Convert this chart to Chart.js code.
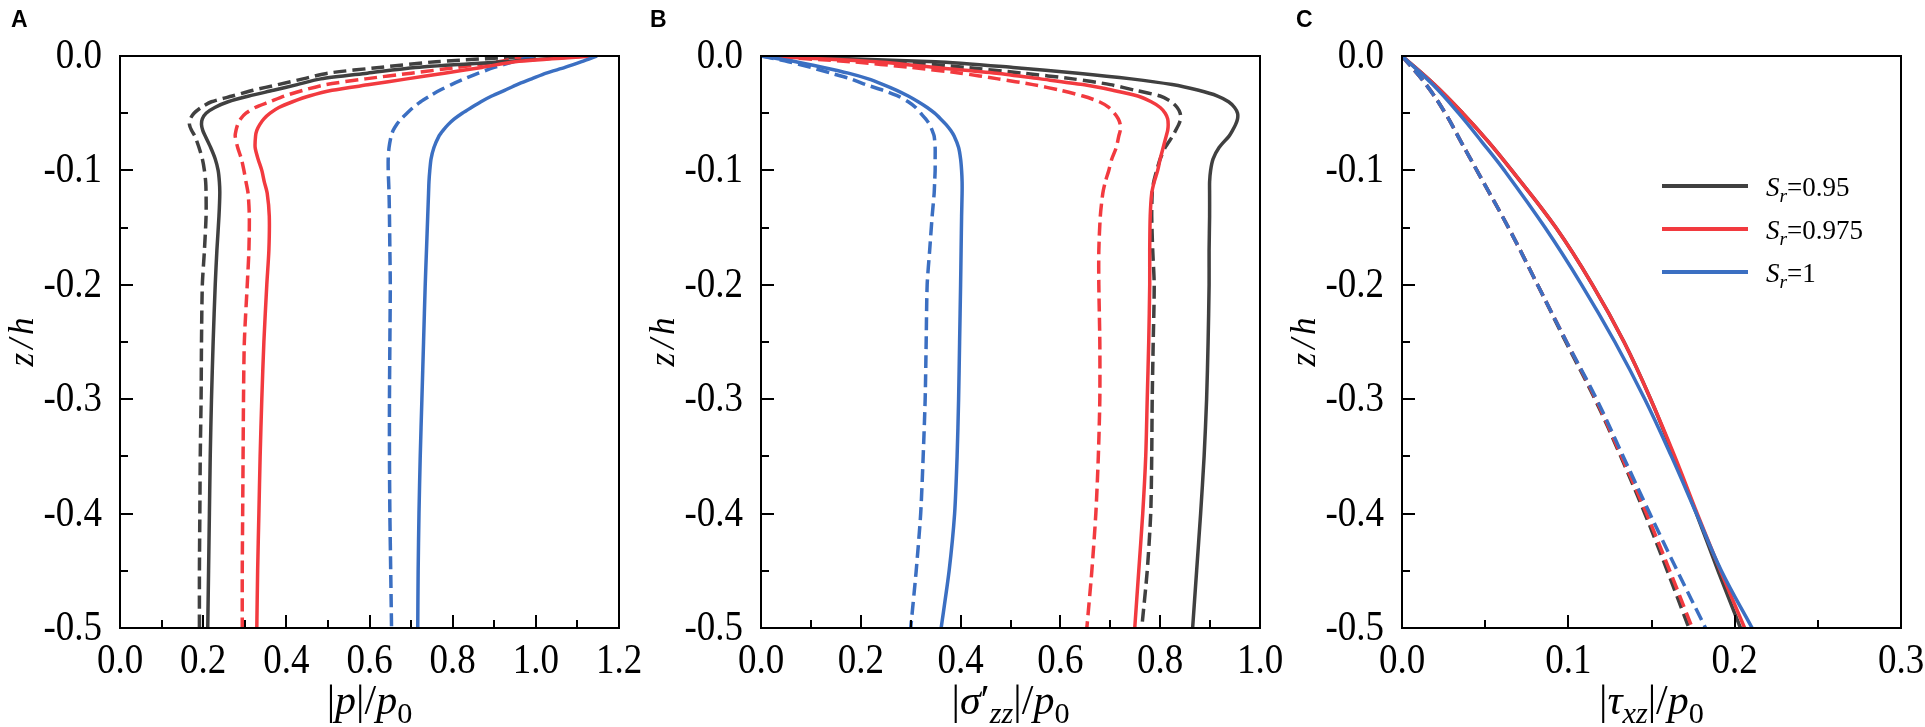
<!DOCTYPE html>
<html>
<head>
<meta charset="utf-8">
<script src="https://cdn.jsdelivr.net/npm/chart.js@4.4.1/dist/chart.umd.min.js"></script>
<style>
  html, body { margin: 0; padding: 0; background: #fff; }
  body { width: 1925px; height: 727px; position: relative; overflow: hidden; }
  canvas { position: absolute; top: 0; }
</style>
</head>
<body>
<canvas id="chartA" width="643" height="727" style="left:0px"></canvas>
<canvas id="chartB" width="643" height="727" style="left:641px"></canvas>
<canvas id="chartC" width="643" height="727" style="left:1282px"></canvas>
<script>
// depth z/h, shared by panels A and B
const depthAB = [0, -0.005, -0.01, -0.015, -0.02, -0.025, -0.03, -0.035, -0.04, -0.045,
  -0.05, -0.055, -0.06, -0.065, -0.07, -0.08, -0.09, -0.1, -0.11, -0.12,
  -0.14, -0.17, -0.2, -0.25, -0.3, -0.35, -0.4, -0.45, -0.5];
const depthC = [0, -0.025, -0.05, -0.075, -0.1, -0.15, -0.2, -0.25, -0.3, -0.35, -0.4, -0.45, -0.5];

// A: |p|/p0
const pSolid095  = [1.12, 0.92, 0.71, 0.595, 0.483, 0.426, 0.369, 0.31, 0.26, 0.228, 0.207, 0.198, 0.196, 0.199, 0.205, 0.218, 0.229, 0.236, 0.239, 0.240, 0.238, 0.233, 0.229, 0.224, 0.220, 0.217, 0.215, 0.213, 0.211];
const pDash095   = [1.0, 0.76, 0.624, 0.50, 0.44, 0.38, 0.32, 0.27, 0.22, 0.195, 0.178, 0.169, 0.167, 0.172, 0.18, 0.19, 0.198, 0.203, 0.206, 0.207, 0.207, 0.203, 0.198, 0.196, 0.195, 0.193, 0.192, 0.191, 0.191];
const pSolid0975 = [1.14, 0.95, 0.87, 0.78, 0.69, 0.60, 0.51, 0.455, 0.415, 0.382, 0.361, 0.346, 0.336, 0.329, 0.326, 0.325, 0.332, 0.341, 0.347, 0.354, 0.359, 0.358, 0.353, 0.346, 0.341, 0.337, 0.334, 0.331, 0.329];
const pDash0975  = [0.98, 0.91, 0.81, 0.70, 0.59, 0.495, 0.44, 0.395, 0.36, 0.325, 0.303, 0.29, 0.283, 0.279, 0.277, 0.283, 0.292, 0.298, 0.303, 0.308, 0.311, 0.310, 0.306, 0.299, 0.297, 0.296, 0.295, 0.294, 0.294];
const pSolid1    = [1.147, 1.11, 1.07, 1.025, 0.99, 0.955, 0.925, 0.894, 0.868, 0.845, 0.823, 0.804, 0.789, 0.777, 0.767, 0.755, 0.748, 0.745, 0.743, 0.742, 0.74, 0.737, 0.734, 0.73, 0.726, 0.722, 0.719, 0.717, 0.716];
const pDash1     = [0.995, 0.945, 0.9, 0.862, 0.828, 0.797, 0.769, 0.745, 0.723, 0.705, 0.69, 0.676, 0.665, 0.657, 0.652, 0.647, 0.645, 0.645, 0.646, 0.647, 0.648, 0.649, 0.65, 0.649, 0.648, 0.648, 0.649, 0.651, 0.653];

// B: |sigma'zz|/p0
const sSolid095  = [0, 0.35, 0.505, 0.635, 0.742, 0.824, 0.877, 0.915, 0.937, 0.949, 0.955, 0.955, 0.951, 0.945, 0.938, 0.918, 0.906, 0.901, 0.899, 0.899, 0.899, 0.898, 0.898, 0.896, 0.893, 0.888, 0.881, 0.873, 0.865];
const sDash095   = [0, 0.272, 0.41, 0.525, 0.625, 0.70, 0.75, 0.80, 0.822, 0.834, 0.84, 0.841, 0.837, 0.831, 0.825, 0.81, 0.80, 0.793, 0.787, 0.784, 0.783, 0.785, 0.788, 0.786, 0.784, 0.783, 0.781, 0.774, 0.763];
const sSolid0975 = [0, 0.23, 0.35, 0.472, 0.56, 0.645, 0.705, 0.755, 0.782, 0.80, 0.81, 0.815, 0.816, 0.815, 0.812, 0.806, 0.80, 0.795, 0.788, 0.783, 0.78, 0.779, 0.779, 0.777, 0.774, 0.771, 0.765, 0.757, 0.749];
const sDash0975  = [0, 0.18, 0.3, 0.4, 0.475, 0.545, 0.60, 0.645, 0.678, 0.697, 0.708, 0.716, 0.72, 0.72, 0.717, 0.712, 0.703, 0.697, 0.69, 0.685, 0.68, 0.677, 0.677, 0.679, 0.679, 0.676, 0.671, 0.663, 0.653];
const sSolid1    = [0, 0.07, 0.125, 0.175, 0.215, 0.245, 0.272, 0.295, 0.315, 0.333, 0.348, 0.36, 0.371, 0.38, 0.387, 0.396, 0.40, 0.402, 0.403, 0.403, 0.402, 0.401, 0.40, 0.398, 0.396, 0.393, 0.388, 0.377, 0.361];
const sDash1     = [0, 0.055, 0.1, 0.14, 0.18, 0.21, 0.245, 0.275, 0.295, 0.31, 0.32, 0.33, 0.338, 0.343, 0.347, 0.349, 0.349, 0.349, 0.348, 0.347, 0.343, 0.338, 0.333, 0.331, 0.329, 0.325, 0.32, 0.311, 0.30];

// C: |tau_xz|/p0
const tSolid095  = [0, 0.0195, 0.0365, 0.052, 0.066, 0.0925, 0.1145, 0.1335, 0.1495, 0.1635, 0.177, 0.190, 0.2035];
const tSolid0975 = [0, 0.0195, 0.0365, 0.052, 0.066, 0.0925, 0.1145, 0.1335, 0.1495, 0.164, 0.1775, 0.1915, 0.206];
const tSolid1    = [0, 0.0185, 0.034, 0.048, 0.0615, 0.086, 0.108, 0.128, 0.146, 0.162, 0.177, 0.192, 0.2105];
const tDash095   = [0, 0.0145, 0.026, 0.0355, 0.045, 0.064, 0.0815, 0.0985, 0.116, 0.1315, 0.146, 0.1595, 0.1725];
const tDash0975  = [0, 0.0145, 0.026, 0.0355, 0.045, 0.064, 0.0815, 0.099, 0.1165, 0.132, 0.147, 0.161, 0.1745];
const tDash1     = [0, 0.0145, 0.026, 0.0355, 0.045, 0.064, 0.0815, 0.099, 0.117, 0.133, 0.149, 0.1655, 0.1825];

const srValues = ['0.95', '0.975', '1'];
const colors = ['#404040', '#f23a3f', '#3b6fc2'];

const serif = '"Liberation Serif", "Times New Roman", serif';

// rich text: [text, style] with 'i' italic, 's' subscript
function drawRich(ctx, parts, x, y, size, align) {
  let w = 0;
  const segs = parts.map(([t, s]) => {
    const sub = s.includes('s');
    const fs = sub ? size * 0.72 : size;
    const font = (s.includes('i') ? 'italic ' : '') + fs + 'px ' + serif;
    ctx.font = font;
    const m = ctx.measureText(t).width;
    w += m;
    return { t, font, m, dy: sub ? size * 0.22 : 0 };
  });
  let cx = align === 'center' ? x - w / 2 : x;
  ctx.textAlign = 'left';
  segs.forEach(g => { ctx.font = g.font; ctx.fillText(g.t, cx, y + g.dy); cx += g.m; });
}

const near = (v, step) => Math.abs(v / step - Math.round(v / step)) < 1e-6;
const fmt = v => (Math.abs(v) < 1e-9 ? 0 : v).toFixed(1);

const decor = {
  id: 'decor',
  afterDraw(chart, args, o) {
    const { ctx, chartArea: a, scales: { x, y } } = chart;
    ctx.save();
    ctx.strokeStyle = '#000';
    ctx.lineWidth = 2;
    ctx.strokeRect(a.left, a.top, a.right - a.left, a.bottom - a.top);

    // inward ticks
    ctx.beginPath();
    for (let i = 1; i * o.xMinor < x.max - 1e-9; i++) {
      const v = i * o.xMinor, px = Math.round(x.getPixelForValue(v));
      const len = near(v, o.xMajor) ? 13 : 8;
      ctx.moveTo(px, a.bottom); ctx.lineTo(px, a.bottom - len);
    }
    for (let i = 1; y.min + i * 0.05 < y.max - 1e-9; i++) {
      const v = y.min + i * 0.05, py = Math.round(y.getPixelForValue(v));
      const len = near(v, 0.1) ? 13 : 8;
      ctx.moveTo(a.left, py); ctx.lineTo(a.left + len, py);
    }
    ctx.stroke();

    // tick labels (slightly tall, like the original)
    ctx.fillStyle = '#000';
    ctx.font = '37px ' + serif;
    ctx.textBaseline = 'alphabetic';
    ctx.textAlign = 'center';
    x.ticks.forEach(t => {
      ctx.save();
      ctx.translate(x.getPixelForValue(t.value), a.bottom + 45);
      ctx.scale(1, 1.12);
      ctx.fillText(fmt(t.value), 0, 0);
      ctx.restore();
    });
    ctx.textAlign = 'right';
    y.ticks.forEach(t => {
      ctx.save();
      ctx.translate(a.left - 18, y.getPixelForValue(t.value) + 12);
      ctx.scale(1, 1.12);
      ctx.fillText(fmt(t.value), 0, 0);
      ctx.restore();
    });

    // y axis title
    ctx.save();
    ctx.translate(33, (a.top + a.bottom) / 2);
    ctx.rotate(-Math.PI / 2);
    ctx.font = 'italic 35px ' + serif;
    ctx.letterSpacing = '4px';
    ctx.textAlign = 'center';
    ctx.fillText('z/h', 2, 0);
    ctx.restore();

    // panel letter
    ctx.font = 'bold 23px "Liberation Sans", Arial, sans-serif';
    ctx.textAlign = 'left';
    ctx.fillText(o.letter, o.letterX, 27);

    // x axis title
    drawRich(ctx, o.xTitle, (a.left + a.right) / 2, 714, 42, 'center');

    // legend
    if (o.legend) {
      srValues.forEach((s, i) => {
        const ly = 186 + i * 43;
        ctx.strokeStyle = colors[i];
        ctx.lineWidth = 4;
        ctx.beginPath();
        ctx.moveTo(a.left + 260, ly); ctx.lineTo(a.left + 346, ly);
        ctx.stroke();
        ctx.fillStyle = '#000';
        drawRich(ctx, [['S', 'i'], ['r', 'is'], ['=' + s, 'n']], a.left + 364, ly + 10, 27, 'left');
      });
    }
    ctx.restore();
  }
};

function series(depth, xs, ci, dashed, tension) {
  return {
    data: xs.map((v, i) => ({ x: v, y: depth[i] })),
    showLine: true,
    borderColor: colors[ci],
    borderWidth: 3.5,
    borderDash: dashed ? [13, 6] : [],
    pointRadius: 0,
    tension,
    fill: false
  };
}

function makePanel(id, depth, solids, dashes, xMax, xStep, xMinor, tension, deco) {
  // index 0 is drawn on top
  const datasets = [];
  for (let i = 2; i >= 0; i--) datasets.push(series(depth, solids[i], i, false, tension));
  for (let i = 2; i >= 0; i--) datasets.push(series(depth, dashes[i], i, true, tension));
  new Chart(document.getElementById(id), {
    type: 'scatter',
    data: { datasets },
    options: {
      responsive: false,
      animation: false,
      devicePixelRatio: 1,
      layout: { padding: { left: 0, right: 24, top: 56, bottom: 0 } },
      plugins: { legend: { display: false }, tooltip: { enabled: false },
        decor: Object.assign({ xMajor: xStep, xMinor }, deco) },
      scales: {
        x: {
          type: 'linear', min: 0, max: xMax,
          grid: { display: false, drawTicks: false }, border: { display: false },
          ticks: { display: false, stepSize: xStep, autoSkip: false },
          afterFit(s) { s.height = 99; }
        },
        y: {
          type: 'linear', min: -0.5, max: 0,
          grid: { display: false, drawTicks: false }, border: { display: false },
          ticks: { display: false, stepSize: 0.1, autoSkip: false },
          afterFit(s) { s.width = 120; }
        }
      }
    },
    plugins: [decor]
  });
}

makePanel('chartA', depthAB, [pSolid095, pSolid0975, pSolid1], [pDash095, pDash0975, pDash1], 1.2, 0.2, 0.1, 0.25,
  { letter: 'A', letterX: 11, xTitle: [['|', 'n'], ['p', 'i'], ['|', 'n'], ['/', 'n'], ['p', 'i'], ['0', 's']] });
makePanel('chartB', depthAB, [sSolid095, sSolid0975, sSolid1], [sDash095, sDash0975, sDash1], 1.0, 0.2, 0.1, 0.25,
  { letter: 'B', letterX: 9, xTitle: [['|', 'n'], ['σ', 'i'], ['′', 'n'], ['zz', 'is'], ['|', 'n'], ['/', 'n'], ['p', 'i'], ['0', 's']] });
makePanel('chartC', depthC, [tSolid095, tSolid0975, tSolid1], [tDash095, tDash0975, tDash1], 0.3, 0.1, 0.05, 0.4,
  { letter: 'C', letterX: 14, legend: true, xTitle: [['|', 'n'], ['τ', 'i'], ['xz', 'is'], ['|', 'n'], ['/', 'n'], ['p', 'i'], ['0', 's']] });
</script>
</body>
</html>
